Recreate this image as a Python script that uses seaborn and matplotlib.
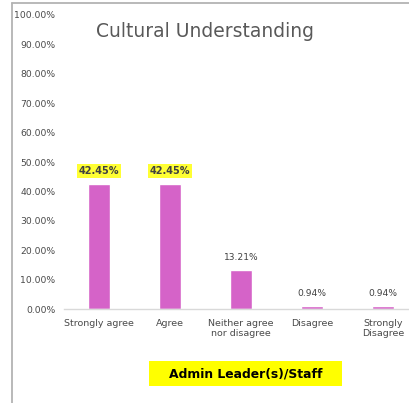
import matplotlib
matplotlib.use("Agg")
import matplotlib.pyplot as plt
import seaborn as sns
import pandas as pd
from matplotlib.lines import Line2D
from matplotlib.patches import Rectangle

# survey responses, admin leader(s)/staff
categories = ["Strongly agree", "Agree", "Neither agree\nnor disagree", "Disagree", "Strongly\nDisagree"]
shares = [0.4245, 0.4245, 0.1321, 0.0094, 0.0094]
highlighted = [True, True, False, False, False]
yticks = [i / 10 for i in range(11)]

df = pd.DataFrame({"response": categories, "share": shares})

sns.set_style("white")
plt.rcParams["font.family"] = ["DejaVu Sans"]

fig = plt.figure(figsize=(4.10, 4.03), dpi=100)
ax = fig.add_axes([0.155, 0.233, 0.866, 0.730])

sns.barplot(data=df, x="response", y="share", color="#d563c8", width=0.31,
            saturation=1, ax=ax)

ax.set_xlim(-0.5, 4.5)
ax.set_ylim(0, 1)
ax.set_yticks(yticks)
ax.set_yticklabels([f"{t * 100:.2f}%" for t in yticks])
ax.set_xlabel("")
ax.set_ylabel("")
ax.tick_params(axis="y", labelsize=6.7, labelcolor="#4a4a4a", length=0, pad=6)
ax.tick_params(axis="x", labelsize=6.8, labelcolor="#4a4a4a", length=0, pad=7)

for s in ["top", "right", "left"]:
    ax.spines[s].set_visible(False)
ax.spines["bottom"].set_color("#d9d9d9")
ax.spines["bottom"].set_linewidth(1.0)

# data labels
for i, (v, hl) in enumerate(zip(shares, highlighted)):
    if hl:
        ax.text(i, v + 0.027, f"{v * 100:.2f}%", ha="center", va="bottom",
                fontsize=7, fontweight="bold", color="#404040",
                bbox=dict(boxstyle="square,pad=0.2", fc="#ffff33", ec="none"))
    else:
        ax.text(i, v + 0.027, f"{v * 100:.2f}%", ha="center", va="bottom",
                fontsize=6.6, color="#404040")

fig.text(0.5, 0.921, "Cultural Understanding", ha="center", va="center",
         fontsize=13.5, color="#595959")

# yellow caption box
fig.add_artist(Rectangle((0.363, 0.042), 0.471, 0.062, transform=fig.transFigure,
                         fc="#ffff00", ec="none"))
fig.text(0.599, 0.073, "Admin Leader(s)/Staff", ha="center", va="center",
         fontsize=8.9, fontweight="bold", color="black")

# outer frame (left and top edges visible)
fig.add_artist(Line2D([0.030, 0.030], [0.0, 0.992], color="#b3b3b3", lw=1.3))
fig.add_artist(Line2D([0.030, 1.0], [0.992, 0.992], color="#b3b3b3", lw=1.3))

fig.savefig("out.png", dpi=100)
